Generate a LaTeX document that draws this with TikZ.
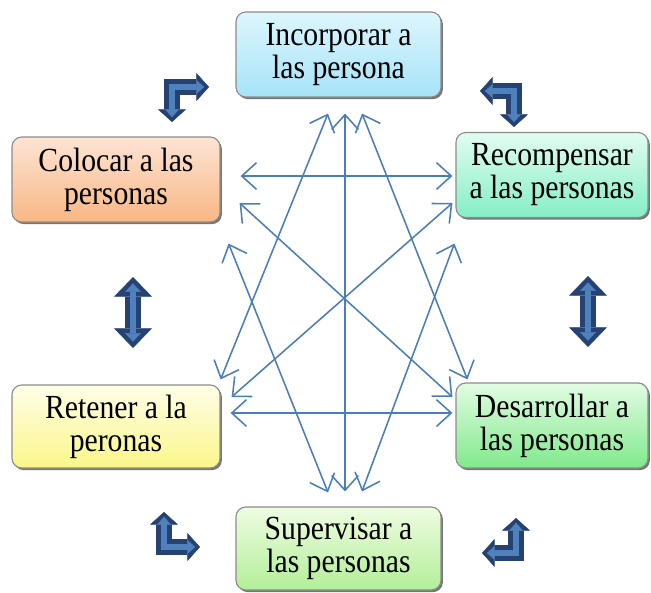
\documentclass[tikz,border=0pt]{standalone}
\usepackage{fontspec}
\setmainfont{Liberation Serif}
\newfontfamily\estrecha{Liberation Serif}[FakeStretch=0.88]
\usepackage{tikz}
\usetikzlibrary{arrows.meta,calc,shadows}

\definecolor{azulflecha}{HTML}{4A7EBB}
\definecolor{azuloscuro}{HTML}{264273}
\definecolor{azulclaro}{HTML}{4F81BD}
\definecolor{borde}{HTML}{8C8C8C}
\definecolor{incA}{HTML}{DDF6FD}
\definecolor{incB}{HTML}{A6E3F8}
\definecolor{colA}{HTML}{FDE4D4}
\definecolor{colB}{HTML}{F8B784}
\definecolor{recA}{HTML}{E2FCF1}
\definecolor{recB}{HTML}{84EFC6}
\definecolor{retA}{HTML}{FEFEE8}
\definecolor{retB}{HTML}{FBF688}
\definecolor{desA}{HTML}{E2FCE2}
\definecolor{desB}{HTML}{80E98C}
\definecolor{supA}{HTML}{EFFCE2}
\definecolor{supB}{HTML}{B2EF98}

\tikzset{
  caja/.style={draw=borde, line width=0.8pt, rounded corners=7pt,
    minimum width=5.125cm, minimum height=2.125cm, inner sep=2pt, align=center,
    font={\estrecha\fontsize{24}{23.5}\selectfont\lineskiplimit=-20pt},
    drop shadow={shadow xshift=1.3pt, shadow yshift=-1.5pt, fill=black!60, opacity=0.9}},
  flecha/.style={draw=azulflecha, line width=1.1pt,
    {Straight Barb[length=10.5pt,width=19pt]}-{Straight Barb[length=10.5pt,width=19pt]}},
  dobleext/.style={draw=azuloscuro, line width=11.5pt,
    {Triangle[length=14pt,width=27pt,line width=0.4pt]}-{Triangle[length=14pt,width=27pt,line width=0.4pt]}},
  dobleint/.style={draw=azulclaro, line width=4.5pt, shorten <=4.5pt, shorten >=4.5pt,
    {Triangle[length=6pt,width=11pt,line width=0.2pt]}-{Triangle[length=6pt,width=11pt,line width=0.2pt]}},
  giroext/.style={draw=azuloscuro, line width=12pt, line join=miter,
    {Triangle[length=9pt,width=20pt,line width=0.4pt]}-{Triangle[length=9pt,width=20pt,line width=0.4pt]}},
  giroint/.style={draw=azulclaro, line width=4.3pt, line join=miter, shorten <=3.5pt, shorten >=3.5pt,
    {Triangle[length=5pt,width=9pt,line width=0.2pt]}-{Triangle[length=5pt,width=9pt,line width=0.2pt]}}
}

\begin{document}
\begin{tikzpicture}[x=0.025cm, y=-0.025cm]
  \useasboundingbox (0,0) rectangle (651,592);

  \node[caja, top color=incA, bottom color=incB] (inc) at (338.5,54.5) {Incorporar a\\las persona};
  \node[caja, top color=colA, bottom color=colB, minimum width=5.2cm] (col) at (116,179.5) {Colocar a las\\personas};
  \node[caja, top color=recA, bottom color=recB, minimum width=4.8cm] (rec) at (552,175) {Recompensar\\a las personas};
  \node[caja, top color=retA, bottom color=retB, minimum width=5.2cm, minimum height=2.075cm] (ret) at (116,426.5) {Retener a la\\peronas};
  \node[caja, top color=desA, bottom color=desB, minimum width=4.8cm] (des) at (552,425.5) {Desarrollar a\\las personas};
  \node[caja, top color=supA, bottom color=supB, minimum height=2.075cm] (sup) at (338.5,548.5) {Supervisar a\\las personas};

  \draw[flecha] ($(inc.south)+(-10.5,16)$) -- ($(ret.north east)+(0,-5)$);
  \draw[flecha] ($(inc.south)+(6.5,16)$) -- ($(sup.north)+(6.5,-15)$);
  \draw[flecha] ($(inc.south)+(23.5,16)$) -- ($(des.north west)+(12,-3)$);
  \draw[flecha] ($(col.south east)+(8,21)$) -- ($(sup.north)+(-10.5,-14)$);
  \draw[flecha] ($(rec.south west)+(-1,25.5)$) -- ($(sup.north)+(23.5,-15)$);
  \draw[flecha] ($(col.east)+(20,-3.5)$) -- ($(rec.west)+(-3,1)$);
  \draw[flecha] ($(col.east)+(19,23.5)$) -- ($(des.west)+(-3,-28.5)$);
  \draw[flecha] ($(rec.west)+(-3,28)$) -- ($(ret.east)+(11,-29.5)$);
  \draw[flecha] ($(ret.east)+(10,-13.5)$) -- ($(des.west)+(-3,-12.5)$);

  % flechas dobles
  \draw[dobleext] (133,277) -- (133,348);
  \draw[dobleint] (133,277) -- (133,348);
  \draw[dobleext] (588,276) -- (588,347);
  \draw[dobleint] (588,276) -- (588,347);

  % flechas en escuadra
  \draw[giroext] (172,122) |- (209,87);
  \draw[giroint] (172,122) |- (209,87);
  \draw[giroext] (480,91) -| (514,127);
  \draw[giroint] (480,91) -| (514,127);
  \draw[giroext] (164,512) |- (200,547);
  \draw[giroint] (164,512) |- (200,547);
  \draw[giroext] (516,518) |- (482,553);
  \draw[giroint] (516,518) |- (482,553);
\end{tikzpicture}
\end{document}
